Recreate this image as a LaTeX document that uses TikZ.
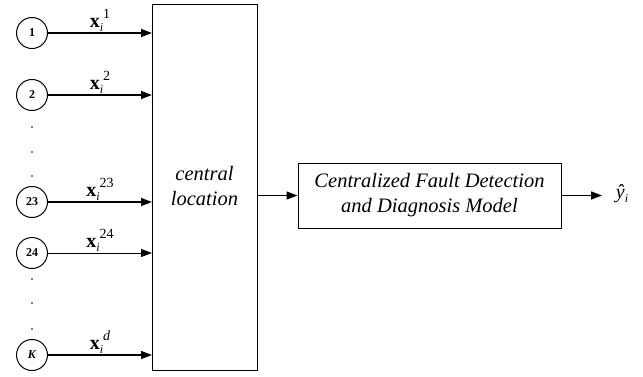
\documentclass[tikz,border=0pt]{standalone}
\usepackage{fontspec}
\setmainfont{Liberation Serif}
\usetikzlibrary{arrows.meta}
\newcommand{\xlab}[1]{\textbf{x}\raisebox{-4pt}{\fontsize{12}{12}\selectfont\itshape i}\raisebox{9pt}{\fontsize{14}{14}\selectfont #1}}
\begin{document}
\begin{tikzpicture}[x=1pt,y=-1pt,
  src/.style={circle,draw,line width=1pt,minimum size=31pt,inner sep=0pt,font=\fontsize{12}{14}\selectfont\bfseries},
  arr/.style={-{Triangle[length=11pt,width=8pt]},line width=1.4pt},
  lbl/.style={font=\fontsize{20}{22}\selectfont,inner sep=1pt},
  vdot/.style={circle,fill,inner sep=0pt,minimum size=1.8pt}]
\useasboundingbox (0,0) rectangle (643,376);
\node[draw,line width=1pt,minimum width=105pt,minimum height=366pt,inner sep=0pt] (cl) at (204.5,187) {};
\node[font=\fontsize{20.5}{25}\selectfont\itshape,align=center] (cltext) at (204.5,186) {central\\location};
\node[draw,line width=1pt,minimum width=263pt,minimum height=65pt,align=center,font=\fontsize{20.5}{25}\selectfont\itshape] (fd) at (429.5,195.5) {Centralized Fault Detection\\and Diagnosis Model};
\node[src] (n1) at (32,33) {1};
\node[src] (n2) at (32,95) {2};
\node[src] (n23) at (32,202) {23};
\node[src] (n24) at (32,253) {24};
\node[src] (nK) at (32,355) {\itshape K};
\coordinate (e1) at (152,33);
\coordinate (e2) at (152,95);
\coordinate (e23) at (152,202);
\coordinate (e24) at (152,253);
\coordinate (eK) at (152,355);
\draw[arr] (n1) -- (e1) node[lbl,pos=0.5,above] {\xlab{1}};
\draw[arr] (n2) -- (e2) node[lbl,pos=0.5,above] {\xlab{2}};
\draw[arr] (n23) -- (e23) node[lbl,pos=0.5,above] {\xlab{23}};
\draw[arr,line width=0.9pt] (n24) -- (e24) node[lbl,pos=0.5,above] {\xlab{24}};
\draw[arr] (nK) -- (eK) node[lbl,pos=0.5,above] {\xlab{\itshape d}};
\node[vdot] (d1) at (32,127) {};
\node[vdot] (d2) at (32,152) {};
\node[vdot] (d3) at (32,176) {};
\node[vdot] (d4) at (32,279) {};
\node[vdot] (d5) at (32,303) {};
\node[vdot] (d6) at (32,329) {};
\coordinate (cr) at (257,195.5);
\draw[arr] (cr) -- (fd.west);
\node[font=\fontsize{20}{22}\selectfont] (y) at (622,194) {\itshape\^{y}\raisebox{-4pt}{\fontsize{12}{12}\selectfont i}};
\coordinate (yo) at (602,195.5);
\draw[arr] (fd.east) -- (yo);
\end{tikzpicture}
\end{document}
